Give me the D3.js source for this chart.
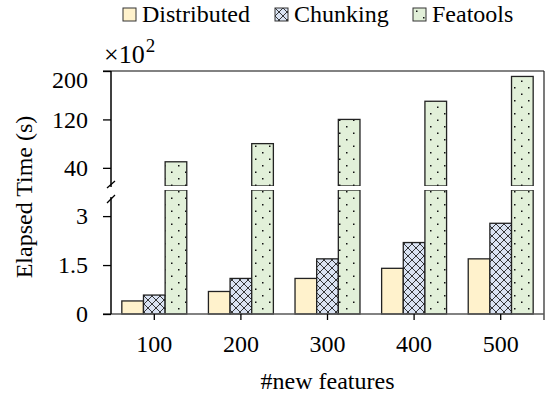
<!DOCTYPE html>
<html>
<head>
<meta charset="utf-8">
<script src="https://cdn.jsdelivr.net/npm/d3@7"></script>
<style>
  body { margin: 0; background: #fff; }
  svg text { font-family: "Liberation Serif", "DejaVu Serif", serif !important; fill: #000; }
</style>
</head>
<body>
<svg width="545" height="396" font-family="Liberation Serif, serif"></svg>
<script>
const categories = ["100", "200", "300", "400", "500"];
const series = ["Distributed", "Chunking", "Featools"];
const distributed = [0.40, 0.69, 1.09, 1.40, 1.69];
const chunking = [0.58, 1.09, 1.69, 2.19, 2.78];
const featools = [50, 80, 120, 150, 191];
const topTicks = [40, 120, 200];
const bottomTicks = [0, 1.5, 3];

const left = 111, right = 544;
const topY0 = 71, topY1 = 186;     // upper panel
const botY0 = 190, botY1 = 314;    // lower panel
const serif = 'Liberation Serif, DejaVu Serif, serif';

const svg = d3.select('svg');
const defs = svg.append('defs');

// cross hatch for Chunking
const hatch = defs.append('pattern')
  .attr('id', 'hatch').attr('patternUnits', 'userSpaceOnUse')
  .attr('width', 8).attr('height', 8);
hatch.append('rect').attr('width', 8).attr('height', 8).attr('fill', '#dae3f3');
hatch.append('path').attr('d', 'M0,0L8,8M8,0L0,8')
  .attr('stroke', '#222').attr('stroke-width', 0.9);

// dots for Featools
const dots = defs.append('pattern')
  .attr('id', 'dots').attr('patternUnits', 'userSpaceOnUse')
  .attr('width', 14).attr('height', 13);
dots.append('rect').attr('width', 14).attr('height', 13).attr('fill', '#e2f0d9');
dots.append('rect').attr('x', 3).attr('y', 2.5).attr('width', 1.5).attr('height', 1.5).attr('fill', '#111');
dots.append('rect').attr('x', 10).attr('y', 9).attr('width', 1.5).attr('height', 1.5).attr('fill', '#111');

const fills = {Distributed: '#fff2cc', Chunking: 'url(#hatch)', Featools: 'url(#dots)'};
const values = {Distributed: distributed, Chunking: chunking, Featools: featools};

const x0 = d3.scaleBand().domain(categories).range([left, right]).paddingInner(0.25).paddingOuter(0.125);
const x1 = d3.scaleBand().domain(series).range([0, x0.bandwidth()]);
const yTop = d3.scaleLinear().domain([10, 200]).range([topY1, topY0]);
const yBot = d3.scaleLinear().domain([0, 3.8]).range([botY1, botY0]);

const rows = [];
series.forEach(s => categories.forEach((c, i) => rows.push({s: s, c: c, v: values[s][i]})));

// lower panel bars
svg.append('g').selectAll('rect')
  .data(rows).enter().append('rect')
  .attr('x', d => x0(d.c) + x1(d.s))
  .attr('width', x1.bandwidth())
  .attr('y', d => yBot(Math.min(d.v, 3.8)))
  .attr('height', d => botY1 - yBot(Math.min(d.v, 3.8)))
  .attr('fill', d => fills[d.s])
  .attr('stroke', '#222').attr('stroke-width', 1.3);

// upper panel bars
svg.append('g').selectAll('rect')
  .data(rows.filter(d => d.v > 10)).enter().append('rect')
  .attr('x', d => x0(d.c) + x1(d.s))
  .attr('width', x1.bandwidth())
  .attr('y', d => yTop(d.v))
  .attr('height', d => topY1 - yTop(d.v))
  .attr('fill', d => fills[d.s])
  .attr('stroke', '#222').attr('stroke-width', 1.3);

// white gap across the break
svg.append('rect').attr('x', left + 1).attr('y', topY1).attr('width', right - left - 2)
  .attr('height', botY0 - topY1).attr('fill', '#fff');

// frame lines
svg.append('line').attr('x1', 103).attr('x2', right).attr('y1', topY0).attr('y2', topY0)
  .attr('stroke', '#595959').attr('stroke-width', 1.5);
svg.append('line').attr('x1', right).attr('x2', right).attr('y1', topY0).attr('y2', 320)
  .attr('stroke', '#222').attr('stroke-width', 1.2);
svg.append('line').attr('x1', 103).attr('x2', right).attr('y1', botY1).attr('y2', botY1)
  .attr('stroke', '#595959').attr('stroke-width', 1.5);

// left axes
const axTop = svg.append('g').attr('transform', `translate(${left},0)`)
  .call(d3.axisLeft(yTop).tickValues(topTicks).tickSize(8).tickPadding(15));
const axBot = svg.append('g').attr('transform', `translate(${left},0)`)
  .call(d3.axisLeft(yBot).tickValues(bottomTicks).tickSize(8).tickPadding(15).tickFormat(d3.format('')));
[axTop, axBot].forEach(a => {
  a.attr('font-family', serif).attr('font-size', 24);
  a.select('.domain').remove();
  a.selectAll('line').attr('stroke', '#000').attr('stroke-width', 1.3);
});
axTop.selectAll('text').filter(d => d === 200).attr('dy', '0.7em');

svg.append('line').attr('x1', left).attr('x2', left).attr('y1', topY0).attr('y2', 187)
  .attr('stroke', '#000').attr('stroke-width', 1.5);
svg.append('line').attr('x1', left).attr('x2', left).attr('y1', 197).attr('y2', botY1)
  .attr('stroke', '#000').attr('stroke-width', 1.5);
svg.append('path').attr('d', 'M107,188L115,181M107,203L115,195')
  .attr('stroke', '#000').attr('stroke-width', 1.3).attr('fill', 'none');

// bottom axis
const axX = svg.append('g').attr('transform', `translate(0,${botY1})`)
  .call(d3.axisBottom(x0).tickSize(6).tickPadding(15));
axX.attr('font-family', serif).attr('font-size', 24);
axX.select('.domain').remove();
axX.selectAll('line').attr('stroke', '#000').attr('stroke-width', 1.3);

// titles
svg.append('text').attr('x', (left + right) / 2).attr('y', 389)
  .attr('font-family', serif).attr('text-anchor', 'middle').attr('font-size', 24).text('#new features');
svg.append('text').attr('transform', 'translate(32,197) rotate(-90)')
  .attr('font-family', serif).attr('text-anchor', 'middle').attr('font-size', 24).text('Elapsed Time (s)');

const mult = svg.append('text').attr('x', 104).attr('y', 63).attr('font-family', serif).attr('font-size', 26);
mult.append('tspan').text('×10');
mult.append('tspan').attr('dy', -11).attr('dx', 1).attr('font-size', 19).text('2');

// legend
const legX = [123, 275, 413];
const leg = svg.append('g').selectAll('g').data(series).enter().append('g')
  .attr('transform', (d, i) => `translate(${legX[i]},8)`);
leg.append('rect').attr('width', 13).attr('height', 13)
  .attr('fill', d => fills[d]).attr('stroke', '#333').attr('stroke-width', 1);
leg.append('text').attr('x', 19).attr('y', 14).attr('font-family', serif).attr('font-size', 24).text(d => d);
</script>
</body>
</html>
